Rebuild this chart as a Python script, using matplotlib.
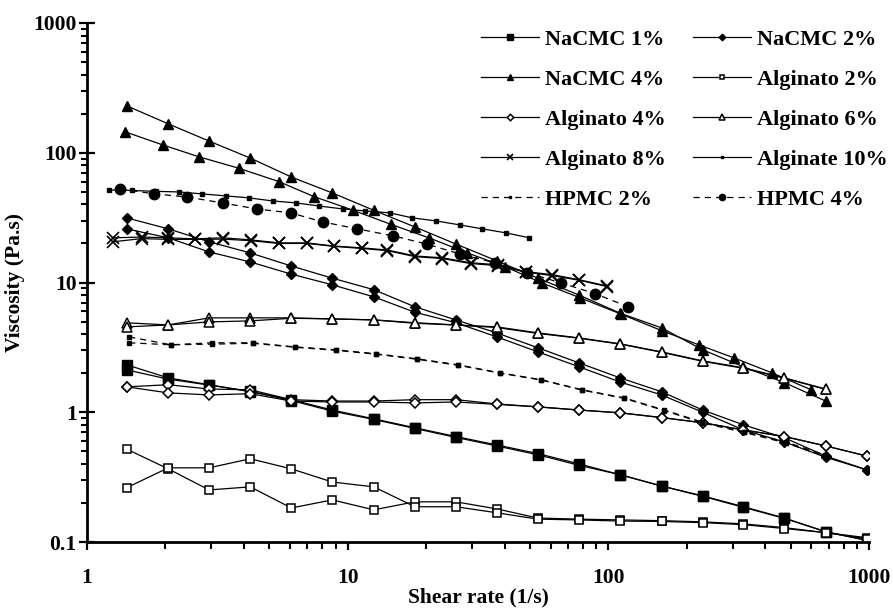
import matplotlib
matplotlib.use("Agg")
import matplotlib.pyplot as plt
from matplotlib.ticker import FixedLocator, FixedFormatter, LogLocator, NullFormatter

plt.rcParams['font.family'] = ['Liberation Serif', 'DejaVu Serif']
plt.rcParams['font.weight'] = 'bold'

# shear rate grids (1/s)
shear_a = [1.42, 2.05, 2.94, 4.23, 6.08, 8.73, 12.6, 18.1, 26.0, 37.3, 53.7, 77.2,
           111, 160, 230, 330, 474, 682, 980]
shear_b = [1.40, 1.95, 2.69, 3.82, 5.44, 7.41, 10.5, 14.7, 20.6, 28.8, 40.3, 55.8,
           78.2, 112, 161, 223, 304, 425, 600]
shear_c = [1.26, 1.62, 2.04, 2.59, 3.32, 4.25, 5.44, 6.97, 8.84, 11.3, 14.2, 18.2,
           23.1, 29.6, 37.6, 48.5, 60.9, 77.4, 99]
shear_d = [1.21, 1.49, 1.84, 2.25, 2.76, 3.41, 4.18, 5.16, 6.32, 7.74, 9.57, 11.7,
           14.5, 17.7, 21.9, 26.9, 32.9, 40.6, 49.8]
shear_e = [1.34, 1.81, 2.42, 3.32, 4.48, 6.05, 8.02, 10.9, 14.9, 20.1, 26.9, 36.6,
           48.9, 66.1, 89.1, 119]
shear_f = [1.45, 2.10, 3.01, 4.33, 6.27, 9.0, 12.9, 18.5, 26.6, 38.5, 55.4, 79.4,
           115, 164, 229, 331, 479, 676]

# viscosity (Pa.s), two sweeps per sample where visible
nacmc1_a = [2.32, 1.84, 1.63, 1.44, 1.25, 1.04, 0.89, 0.76, 0.65, 0.56, 0.48, 0.40,
            0.33, 0.27, 0.227, 0.187, 0.153, 0.12, 0.103]
nacmc1_b = [2.12, 1.80, 1.62, 1.45, 1.23, 1.02, 0.88, 0.75, 0.64, 0.55, 0.47, 0.39,
            0.33, 0.27, 0.225, 0.185, 0.152, 0.12, 0.103]
nacmc2_a = [31.5, 25.9, 20.6, 16.9, 13.4, 10.8, 8.8, 6.5, 5.15, 4.09, 3.14, 2.40,
            1.84, 1.44, 1.04, 0.80, 0.635, 0.46, 0.36]
nacmc2_b = [25.9, 22.1, 17.2, 14.4, 11.6, 9.6, 7.75, 5.9, 4.9, 3.81, 2.92, 2.24,
            1.71, 1.36, 1.0, 0.73, 0.59, 0.45, 0.36]
nacmc4_a = [230, 167, 123, 91, 65, 49, 36, 26.8, 19.8, 14.7, 10.8, 8.0, 5.8, 4.47,
            3.03, 2.24, 1.69, 1.22]
nacmc4_b = [145, 115, 93, 76, 60, 46, 36, 28, 22, 16.9, 13.2, 9.9, 7.6, 5.7, 4.24,
            3.3, 2.62, 2.01, 1.49]
alg2_a = [0.52, 0.366, 0.252, 0.266, 0.183, 0.211, 0.177, 0.204, 0.204, 0.18, 0.153,
          0.150, 0.148, 0.146, 0.143, 0.138, 0.129, 0.118, 0.108]
alg2_b = [0.262, 0.373, 0.373, 0.438, 0.366, 0.29, 0.266, 0.187, 0.187, 0.168, 0.15,
          0.148, 0.145, 0.144, 0.141, 0.136, 0.127, 0.118, 0.106]
alg4_a = [1.57, 1.63, 1.51, 1.49, 1.25, 1.22, 1.22, 1.25, 1.25, 1.16, 1.10, 1.04,
          0.99, 0.91, 0.83, 0.73, 0.65, 0.55, 0.46]
alg4_b = [1.57, 1.41, 1.36, 1.39, 1.22, 1.20, 1.20, 1.18, 1.20, 1.15, 1.10, 1.04,
          0.99, 0.91, 0.83, 0.73, 0.65, 0.55, 0.46]
alg6_a = [4.89, 4.71, 5.34, 5.34, 5.34, 5.24, 5.15, 4.9, 4.71, 4.55, 4.09, 3.74,
          3.37, 2.92, 2.49, 2.20, 1.84, 1.51]
alg6_b = [4.55, 4.71, 4.97, 5.06, 5.30, 5.24, 5.15, 4.85, 4.7, 4.5, 4.05, 3.72,
          3.35, 2.9, 2.47, 2.18, 1.83, 1.50]
alg8_a = [22.1, 22.4, 22.1, 21.7, 22.1, 21.3, 20.2, 20.2, 19.1, 18.5, 17.8, 16.0,
          15.5, 14.2, 13.7, 12.1, 11.5, 10.5, 9.4]
alg8_b = [20.6, 21.8, 21.5, 21.5, 21.6, 21.0, 20.0, 20.0, 19.0, 18.3, 17.6, 15.8,
          15.3, 14.0, 13.5, 12.0, 11.3, 10.4, 9.3]
alg10 = [51.7, 51.2, 50.4, 49.9, 48.2, 46.5, 44.9, 42.5, 41.1, 38.9, 36.9, 35.6,
         34.4, 31.5, 29.8, 27.8, 25.9, 24.1, 22.1]
hpmc2_a = [3.81, 3.31, 3.43, 3.43, 3.19, 3.03, 2.82, 2.58, 2.32, 2.01, 1.78, 1.49,
           1.29, 1.04, 0.84, 0.71, 0.59, 0.47]
hpmc2_b = [3.43, 3.31, 3.35, 3.40, 3.17, 3.0, 2.80, 2.56, 2.30, 2.0, 1.77, 1.48,
           1.28, 1.03, 0.83, 0.70, 0.58, 0.46]
hpmc4 = [52.6, 48.2, 45.6, 41.0, 36.9, 34.4, 29.3, 25.9, 22.9, 19.8, 16.6, 14.2,
         11.9, 9.9, 8.2, 6.5]

fig = plt.figure(figsize=(8.93, 6.08), dpi=100)
ax = fig.add_axes([87 / 893, 1 - 542 / 608, (869 - 87) / 893, (542 - 23) / 608])

lw = 0.9
dash = (0, (5, 4))

def curve(x, y, label=None, **kw):
    kw.setdefault('color', 'black')
    kw.setdefault('lw', lw)
    kw.setdefault('mec', 'black')
    ax.plot(x, y, label=label, **kw)

curve(shear_a, nacmc1_a, 'NaCMC 1%', marker='s', ms=6.5, mfc='black')
curve(shear_a, nacmc1_b, marker='s', ms=6.5, mfc='black')
curve(shear_a, nacmc2_a, 'NaCMC 2%', marker='D', ms=5.5, mfc='black')
curve(shear_a, nacmc2_b, marker='D', ms=5.5, mfc='black')
curve(shear_a[:len(nacmc4_a)], nacmc4_a, 'NaCMC 4%', marker='^', ms=7.5, mfc='black')
curve(shear_b, nacmc4_b, marker='^', ms=7.5, mfc='black')
curve(shear_a, alg2_a, 'Alginato 2%', marker='s', ms=6, mfc='white', mew=1.1)
curve(shear_a, alg2_b, marker='s', ms=6, mfc='white', mew=1.1)
curve(shear_a, alg4_a, 'Alginato 4%', marker='D', ms=5.5, mfc='white', mew=1.1)
curve(shear_a, alg4_b, marker='D', ms=5.5, mfc='white', mew=1.1)
curve(shear_a[:len(alg6_a)], alg6_a, 'Alginato 6%', marker='^', ms=7.5, mfc='white', mew=1.1)
curve(shear_a[:len(alg6_b)], alg6_b, marker='^', ms=7.5, mfc='white', mew=1.1)
curve(shear_c, alg8_a, 'Alginato 8%', marker='x', ms=8, mew=1.2)
curve(shear_c, alg8_b, marker='x', ms=8, mew=1.2)
curve(shear_d, alg10, 'Alginate 10%', marker='s', ms=2.8, mfc='black')
curve(shear_f, hpmc2_a, 'HPMC 2%', marker='s', ms=3.2, mfc='black', ls=dash)
curve(shear_f, hpmc2_b, marker='s', ms=3.2, mfc='black', ls=dash)
curve(shear_e, hpmc4, 'HPMC 4%', marker='o', ms=7.5, mfc='black', ls=dash)

ax.set_xscale('log')
ax.set_yscale('log')
ax.set_xlim(1, 1000)
ax.set_ylim(0.1, 1000)

ax.xaxis.set_major_locator(FixedLocator([1, 10, 100, 1000]))
ax.xaxis.set_major_formatter(FixedFormatter(['1', '10', '100', '1000']))
ax.yaxis.set_major_locator(FixedLocator([0.1, 1, 10, 100, 1000]))
ax.yaxis.set_major_formatter(FixedFormatter(['0.1', '1', '10', '100', '1000']))
for axis in (ax.xaxis, ax.yaxis):
    axis.set_minor_locator(LogLocator(base=10, subs=range(2, 10)))
    axis.set_minor_formatter(NullFormatter())

for side in ('top', 'right'):
    ax.spines[side].set_visible(False)
for side in ('left', 'bottom'):
    ax.spines[side].set_linewidth(2)

ax.tick_params(axis='y', which='major', direction='inout', length=11, width=1.6,
               labelsize=15.5, pad=2)
ax.tick_params(axis='y', which='minor', direction='out', length=4.5, width=1.5)
ax.tick_params(axis='x', which='major', direction='out', length=6, width=1.6,
               labelsize=15.5, pad=13)
ax.tick_params(axis='x', which='minor', direction='out', length=5, width=1.5)

ax.set_xlabel('Shear rate (1/s)', fontsize=15.5, fontweight='bold', labelpad=-1)
ax.set_ylabel('Viscosity (Pa.s)', fontsize=15.5, fontweight='bold', labelpad=6)

# legend filled row by row, two columns
handles, labels = ax.get_legend_handles_labels()
order = [0, 2, 4, 6, 8, 1, 3, 5, 7, 9]
leg = ax.legend([handles[i] for i in order], [labels[i] for i in order],
                loc='upper left', bbox_to_anchor=(481 / 893, 1 - 29 / 608),
                bbox_transform=fig.transFigure, ncol=2, frameon=False,
                fontsize=16, handlelength=2.6, handletextpad=0.3,
                columnspacing=1.2, labelspacing=0.88, borderpad=0,
                borderaxespad=0, markerscale=0.6)

fig.savefig('out.png', dpi=100)
